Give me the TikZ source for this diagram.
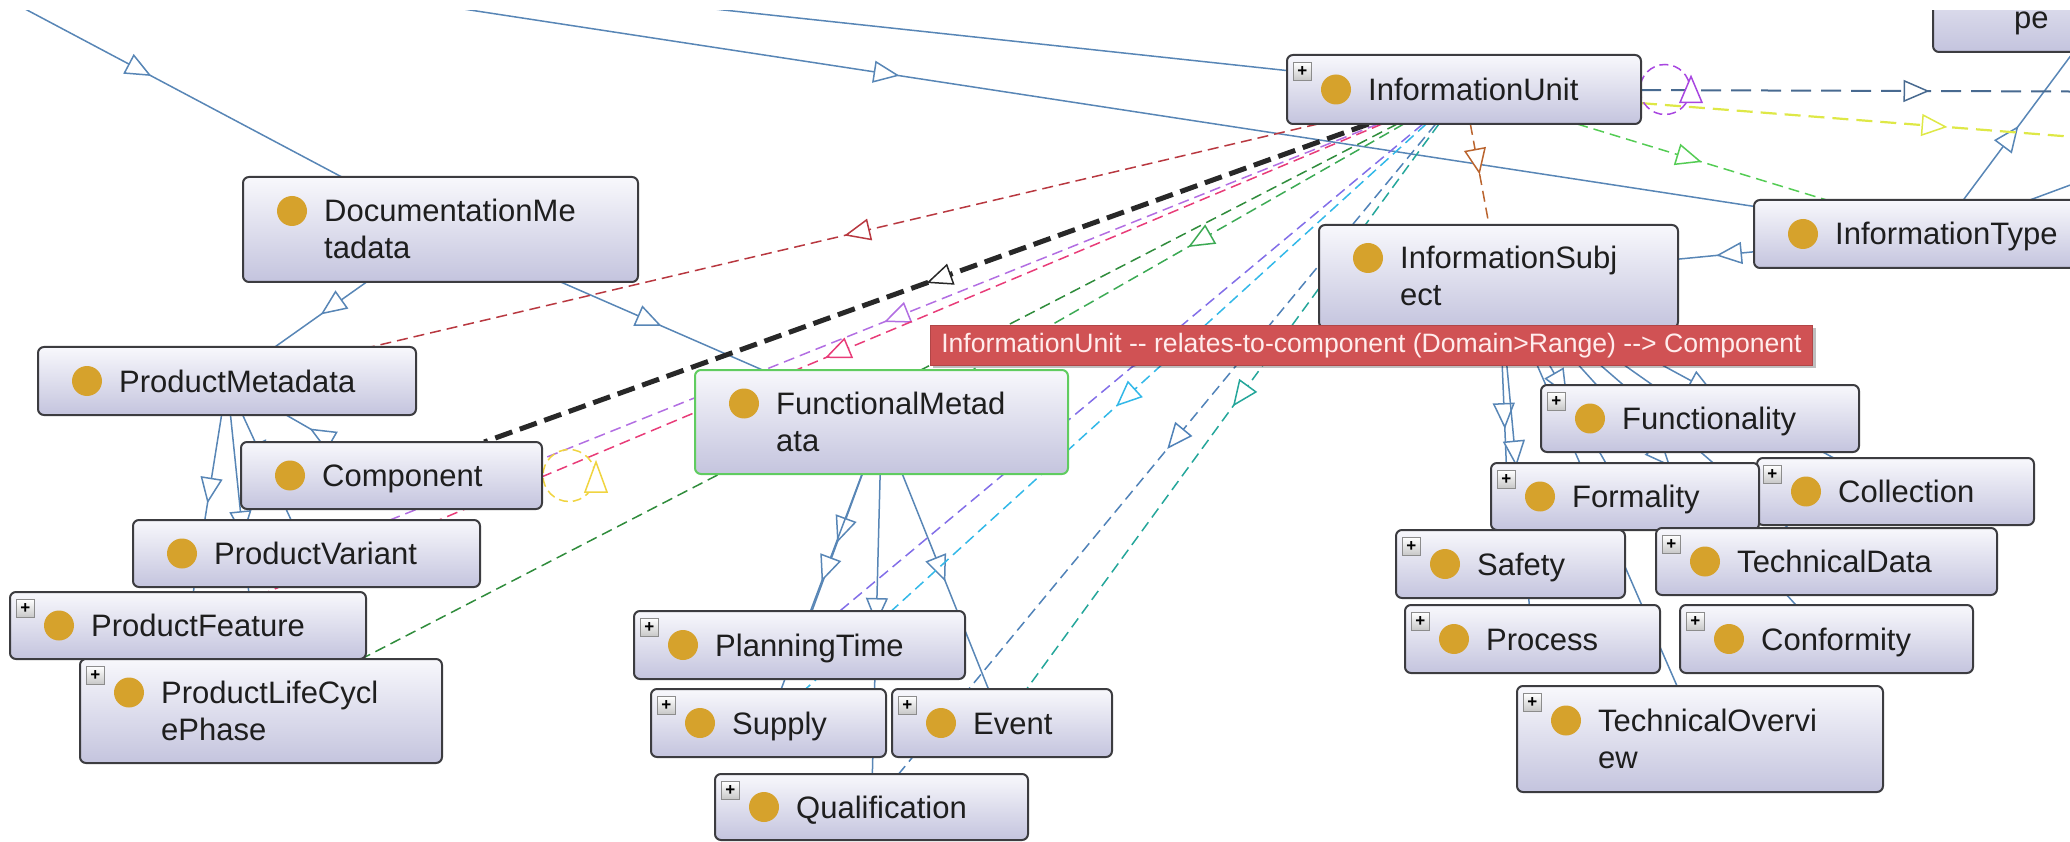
\documentclass[tikz,border=0pt]{standalone}
\usepackage{fontspec}
\setmainfont{Liberation Sans}
\usetikzlibrary{arrows.meta,decorations.markings,backgrounds,calc,shadows}
\definecolor{edgeblue}{RGB}{88,134,182}
\definecolor{boxtop}{RGB}{248,248,252}
\definecolor{boxbot}{RGB}{196,196,222}
\definecolor{boxline}{RGB}{60,60,64}
\definecolor{dotc}{RGB}{214,162,44}
\definecolor{txt}{RGB}{30,30,30}
\definecolor{fmgreen}{RGB}{96,204,96}
\definecolor{cdred}{RGB}{184,56,64}
\definecolor{cblack}{RGB}{40,40,40}
\definecolor{cviolet}{RGB}{178,110,226}
\definecolor{cpink}{RGB}{232,60,120}
\definecolor{cdgreen}{RGB}{48,140,60}
\definecolor{cgreen}{RGB}{60,170,84}
\definecolor{cbviolet}{RGB}{130,110,232}
\definecolor{ccyan}{RGB}{50,184,232}
\definecolor{csteel}{RGB}{80,130,184}
\definecolor{cteal}{RGB}{36,166,154}
\definecolor{cbrown}{RGB}{186,100,46}
\definecolor{clime}{RGB}{84,204,84}
\definecolor{cslate}{RGB}{72,106,144}
\definecolor{cyellow}{RGB}{222,232,70}
\definecolor{cpurple}{RGB}{168,70,224}
\definecolor{cgold}{RGB}{240,212,64}
\definecolor{tipred}{RGB}{208,82,84}
\definecolor{tiptext}{RGB}{255,236,236}
\tikzset{
  box/.style={draw=boxline, line width=2pt, rounded corners=6pt, top color=boxtop, bottom color=boxbot, inner sep=0pt, outer sep=0pt},
  lbl/.style={font=\fontsize{31}{37}\selectfont, text=txt, inner sep=0pt},
  dot/.style={circle, fill=dotc, minimum size=30pt, inner sep=0pt},
  plusbox/.style={draw=black!45, line width=0.8pt, top color=white, bottom color=black!22, minimum size=18pt, inner sep=0pt, font=\fontsize{17}{17}\selectfont\bfseries, text=black},
  tri/.style={postaction={decorate}, decoration={markings, mark=at position 0.5 with {\arrow{Triangle[length=26pt,width=22pt,fill=white,line width=1.5pt]}}}},
  sub/.style={draw=edgeblue, line width=1.5pt, tri},
  prop/.style={line width=1.5pt, dash pattern=on 11pt off 6pt, tri},
  loopline/.style={line width=1.5pt, dash pattern=on 9pt off 5pt},
  looptri/.style={line width=1.5pt, fill=white},
  tipbox/.style={fill=tipred, draw=tipred!85!black, line width=0.6pt, text=tiptext, font=\fontsize{26.6}{30}\selectfont, inner xsep=11pt, inner ysep=0pt, minimum height=40pt, text height=20pt, text depth=5pt, drop shadow={shadow xshift=3pt, shadow yshift=-3pt, fill=black, opacity=0.25}}
}
\newcommand\mkbox[6]{%
  \pgfmathsetmacro\bw{#4-#2}\pgfmathsetmacro\bh{#5-#3}%
  \pgfmathsetmacro\bx{(#2+#4)/2}\pgfmathsetmacro\by{(#3+#5)/2}%
  \node[box,minimum width=\bw pt,minimum height=\bh pt,#6] (#1) at (\bx,\by) {};}
\newcommand\lineone[2]{%
  \node[lbl,anchor=base west] (#1-t) at ($(#1.west)+(81,11)$) {#2};
  \node[dot] (#1-c) at ($(#1.west)+(49,0)$) {};}
\newcommand\linetwo[3]{%
  \node[lbl,anchor=base west] (#1-t) at ($(#1.west)+(81,-7.5)$) {#2};
  \node[lbl,anchor=base west] (#1-u) at ($(#1.west)+(81,29.5)$) {#3};
  \node[dot] (#1-c) at ($(#1.west)+(49,-18.5)$) {};}
\newcommand\addplus[1]{\node[plusbox,anchor=north west] (#1-p) at ($(#1.north west)+(6,7)$) {+};}
\begin{document}
\begin{tikzpicture}[x=1pt,y=-1pt]
\useasboundingbox (0,0) rectangle (2070,842);
% ---------------- classes
\mkbox{pe}{1933}{-53}{2292}{52}{}
\node[lbl,anchor=base west] (pe-u) at ($(pe.west)+(81,29.5)$) {pe};
\mkbox{iu}{1287}{55}{1641}{124}{}\addplus{iu}\lineone{iu}{InformationUnit}
\mkbox{dm}{243}{177}{638}{282}{}\linetwo{dm}{DocumentationMe}{tadata}
\mkbox{pm}{38}{347}{416}{415}{}\lineone{pm}{ProductMetadata}
\mkbox{comp}{241}{442}{542}{509}{}\lineone{comp}{Component}
\mkbox{pv}{133}{520}{480}{587}{}\lineone{pv}{ProductVariant}
\mkbox{pf}{10}{592}{366}{659}{}\addplus{pf}\lineone{pf}{ProductFeature}
\mkbox{plcp}{80}{659}{442}{763}{}\addplus{plcp}\linetwo{plcp}{ProductLifeCycl}{ePhase}
\mkbox{fm}{695}{370}{1068}{474}{draw=fmgreen}\linetwo{fm}{FunctionalMetad}{ata}
\mkbox{pt}{634}{611}{965}{679}{}\addplus{pt}\lineone{pt}{PlanningTime}
\mkbox{sup}{651}{689}{886}{757}{}\addplus{sup}\lineone{sup}{Supply}
\mkbox{ev}{892}{689}{1112}{757}{}\addplus{ev}\lineone{ev}{Event}
\mkbox{qual}{715}{774}{1028}{840}{}\addplus{qual}\lineone{qual}{Qualification}
\mkbox{is}{1319}{225}{1678}{328}{}\linetwo{is}{InformationSubj}{ect}
\mkbox{it}{1754}{200}{2122}{268}{}\lineone{it}{InformationType}
\mkbox{func}{1541}{385}{1859}{452}{}\addplus{func}\lineone{func}{Functionality}
\mkbox{coll}{1757}{458}{2034}{525}{}\addplus{coll}\lineone{coll}{Collection}
\mkbox{form}{1491}{463}{1759}{530}{}\addplus{form}\lineone{form}{Formality}
\mkbox{safe}{1396}{530}{1625}{598}{}\addplus{safe}\lineone{safe}{Safety}
\mkbox{td}{1656}{528}{1997}{595}{}\addplus{td}\lineone{td}{TechnicalData}
\mkbox{proc}{1405}{605}{1660}{673}{}\addplus{proc}\lineone{proc}{Process}
\mkbox{conf}{1680}{605}{1973}{673}{}\addplus{conf}\lineone{conf}{Conformity}
\mkbox{to}{1517}{686}{1883}{792}{}\addplus{to}\linetwo{to}{TechnicalOvervi}{ew}
% off-picture ends
\coordinate (s1) at (-39,-25);
\coordinate (s2) at (45,-55);
\coordinate (s3) at (-300,-100);
\coordinate (s4) at (2300,100);
\coordinate (e1) at (2218,92);
\coordinate (e2) at (2254,151);
% ---------------- connectors
\begin{pgfonlayer}{background}
\draw[sub] (s1) -- (dm);
\draw[sub] (s2) -- (it);
\draw[sub] (s3) -- (iu);
\draw[sub] (dm) -- (pm);
\draw[sub] (dm) -- (fm);
\draw[sub] (comp) -- (pm);
\draw[sub] (pm) -- (pv);
\draw[sub] (pm) -- (pf);
\draw[sub] (pm) -- (plcp);
\draw[sub] (fm) -- (pt);
\draw[sub] (fm) -- (sup);
\draw[sub] (fm) -- (qual);
\draw[sub] (fm) -- (ev);
\draw[sub] (it) -- (is);
\draw[sub] (it) -- (pe);
\draw[sub] (it) -- (s4);
\foreach \t in {func,form,coll,safe,td,proc,conf,to}
  \draw[sub] (is) -- (\t);
% object properties
\draw[prop, draw=cdred] (iu) -- (pm);
\draw[prop, draw=cviolet] (iu) -- (pv);
\draw[prop, draw=cpink] (iu) -- (pf);
\draw[prop, draw=cdgreen] (iu) -- (plcp);
\draw[prop, draw=cgreen] (iu) -- (fm);
\draw[prop, draw=cbviolet] (iu) -- (pt);
\draw[prop, draw=ccyan] (iu) -- (sup);
\draw[prop, draw=csteel] (iu) -- (qual);
\draw[prop, draw=cteal] (iu) -- (ev);
\draw[prop, draw=cbrown] (iu) -- (is);
\draw[prop, draw=clime] (iu) -- (it);
\draw[prop, draw=cslate, line width=2pt, dash pattern=on 20pt off 10pt] (iu) -- (e1);
\draw[prop, draw=cyellow, line width=2.2pt, dash pattern=on 16pt off 8pt] (iu) -- (e2);
\draw[prop, draw=cblack, line width=5pt, dash pattern=on 18pt off 8pt] (iu) -- (comp);
% self loops
\draw[loopline, cpurple] ($(iu.east)+(24,0)$) circle[radius=25];
\draw[looptri, draw=cpurple] ($(iu.east)+(50,-13)$) -- ($(iu.east)+(39,13)$) -- ($(iu.east)+(61,13)$) -- cycle;
\draw[loopline, cgold] ($(comp.east)+(27,0)$) circle[radius=26];
\draw[looptri, draw=cgold] ($(comp.east)+(54,-13.5)$) -- ($(comp.east)+(43,16.5)$) -- ($(comp.east)+(65,16.5)$) -- cycle;
\end{pgfonlayer}
% ---------------- tooltip
\node[tipbox, anchor=north west] (tip) at (930,325) {InformationUnit -{}- relates-to-component (Domain>Range) -{}-> Component};
\fill[white] (0,0) rectangle (2070,10);
\end{tikzpicture}
\end{document}
